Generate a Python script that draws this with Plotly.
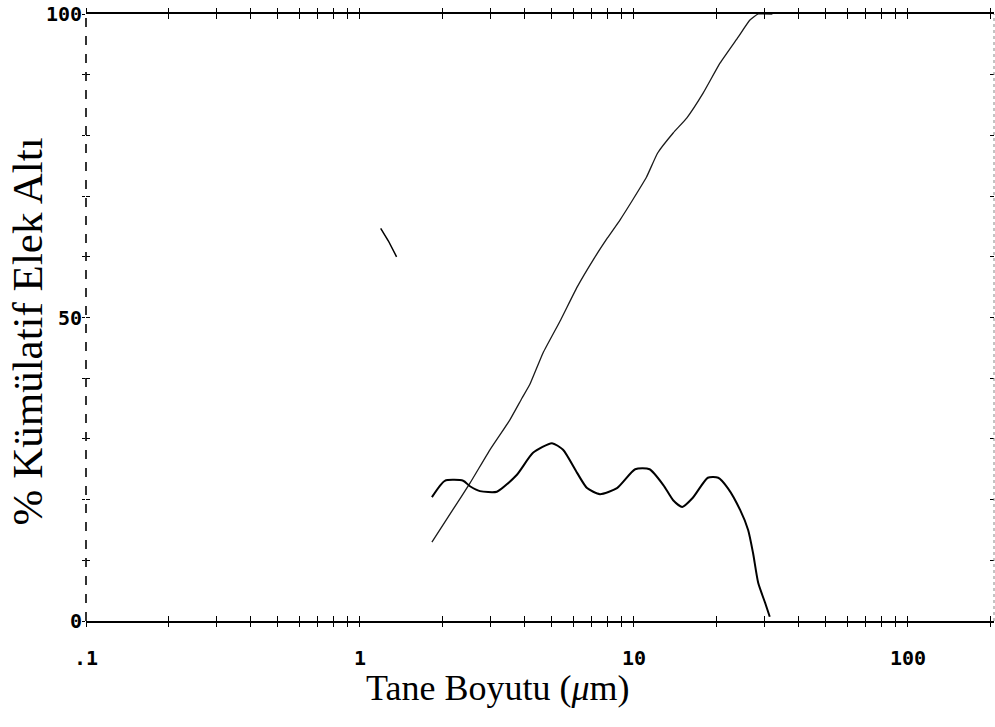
import plotly.graph_objects as go

# ---- data ----
cum_x = [1.83, 2.18, 2.52, 2.98, 3.52, 3.90, 4.17, 4.66, 5.4, 6.2, 7.1, 8.0, 8.9, 9.9,
         11.1, 12.2, 13.9, 15.6, 17.9, 20.6, 24.0, 26.5, 28.4, 32.0]
cum_y = [13.0, 18.3, 22.7, 28.2, 33.1, 36.7, 39.0, 44.2, 49.6, 55.0, 59.5, 63.1, 66.1, 69.4,
         73.1, 77.1, 80.4, 82.9, 87.0, 91.9, 96.2, 99.0, 100.0, 100.0]

dist_x = [1.83, 2.04, 2.38, 2.52, 2.74, 3.16, 3.74, 4.28, 5.02, 5.51, 6.2, 6.74, 7.51, 8.67,
          10.1, 11.4, 12.8, 13.9, 15.0, 16.4, 18.6, 20.3, 22.0, 24.4, 26.1, 27.2, 28.4, 30.1, 31.3]
dist_y = [20.4, 23.1, 23.1, 22.2, 21.4, 21.3, 24.1, 27.7, 29.3, 28.2, 24.4, 21.9, 20.9, 21.9,
          25.0, 25.0, 22.4, 19.9, 18.8, 20.3, 23.6, 23.6, 21.9, 18.3, 15.0, 11.2, 6.3, 3.0, 0.7]

stray_x = [1.19, 1.27, 1.36]
stray_y = [64.7, 62.6, 60.0]

x_major = [0.1, 1, 10, 100]
x_major_text = [".1", "1", "10", "100"]
y_ticks = [0, 10, 20, 30, 40, 50, 60, 70, 80, 90, 100]
y_tick_text = ["0", "", "", "", "", "50", "", "", "", "", "100"]

x_title = "Tane Boyutu (<i>μ</i>m)"
y_title = "% Kümülatif Elek Altı"

# ---- tick lists built from the majors ----
x_tickvals, x_ticktext = [], []
for v, t in zip(x_major, x_major_text):
    x_tickvals.append(v)
    x_ticktext.append(t)
    for m in range(2, 10):
        x_tickvals.append(v * m)
        x_ticktext.append("")

XR = [-1, 2.314]
YR = [0, 100]

fig = go.Figure()
fig.add_trace(go.Scatter(x=cum_x, y=cum_y, mode="lines",
                         line=dict(color="#1a1a1a", width=1.3, shape="spline", smoothing=0.4),
                         showlegend=False))
fig.add_trace(go.Scatter(x=dist_x, y=dist_y, mode="lines",
                         line=dict(color="black", width=2, shape="spline", smoothing=0.6),
                         showlegend=False))
fig.add_trace(go.Scatter(x=stray_x, y=stray_y, mode="lines", xaxis="x2", yaxis="y2",
                         line=dict(color="black", width=1.5), showlegend=False))

tickfont = dict(family="DejaVu Sans Mono", size=20, color="black", weight="bold")

fig.update_layout(
    width=995, height=727,
    margin=dict(l=86, r=1, t=14, b=106),
    paper_bgcolor="white", plot_bgcolor="white",
    xaxis=dict(type="log", range=XR, tickmode="array", tickvals=x_tickvals,
               ticktext=x_ticktext, ticks="inside", ticklen=5, tickwidth=1.3,
               tickcolor="black", mirror="allticks", showline=True, linecolor="black",
               linewidth=2, showgrid=False, zeroline=False, tickfont=tickfont,
               ticklabelstandoff=18),
    xaxis2=dict(type="log", range=XR, overlaying="x", tickmode="array",
                tickvals=x_tickvals, ticktext=["" for _ in x_tickvals], ticks="outside",
                ticklen=5, tickwidth=1.3, tickcolor="black", mirror="allticks",
                showline=False, showgrid=False, zeroline=False, side="bottom"),
    yaxis=dict(range=YR, tickmode="array", tickvals=y_ticks, ticktext=y_tick_text,
               ticks="inside", ticklen=4, tickwidth=1.3, tickcolor="black",
               mirror="allticks", showline=False, showgrid=False, zeroline=False,
               tickfont=tickfont, ticklabelstandoff=3),
    yaxis2=dict(range=YR, overlaying="y", tickmode="array", tickvals=y_ticks,
                ticktext=["" for _ in y_ticks], ticks="outside", ticklen=3,
                tickwidth=1.3, tickcolor="black", showline=False, showgrid=False,
                zeroline=False, side="left"),
    shapes=[
        dict(type="line", xref="paper", yref="paper", x0=0, x1=0, y0=0, y1=1,
             line=dict(color="black", width=1.6, dash="dash")),
        dict(type="line", xref="paper", yref="paper", x0=1, x1=1, y0=0, y1=1,
             line=dict(color="#888", width=1, dash="dot")),
    ],
    annotations=[
        dict(text=x_title, xref="paper", yref="paper", x=0.4537, y=-0.110,
             xanchor="center", yanchor="middle", showarrow=False,
             font=dict(family="Liberation Serif", size=36, color="black")),
        dict(text=y_title, xref="paper", yref="paper", x=-0.065, y=0.477,
             xanchor="center", yanchor="middle", showarrow=False, textangle=-90,
             font=dict(family="Liberation Serif", size=43, color="black")),
    ],
)

fig.write_html("out.html")
